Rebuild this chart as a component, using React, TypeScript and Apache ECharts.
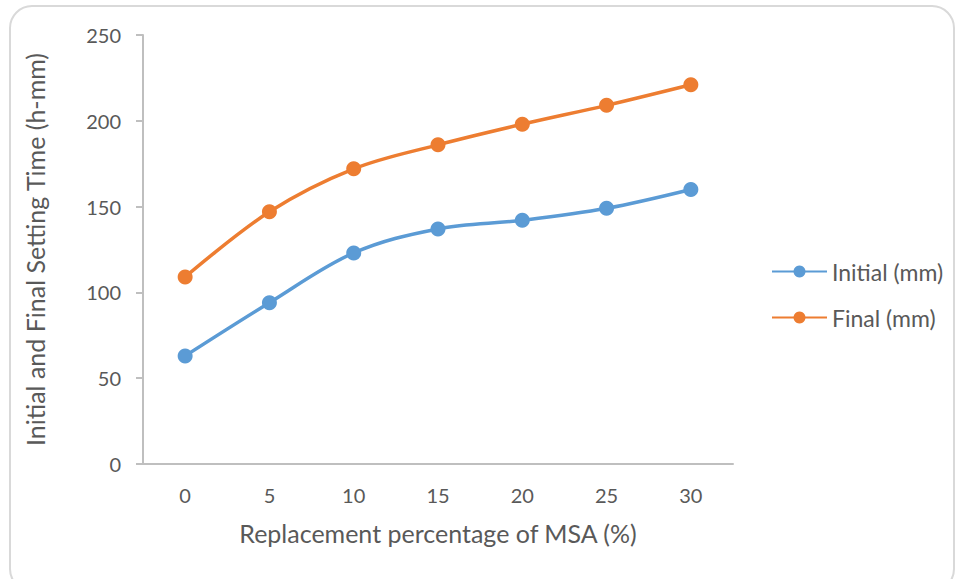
import React, { useEffect, useRef } from "react";
import * as echarts from "echarts";

const categories = ["0", "5", "10", "15", "20", "25", "30"];
const initialValues = [63, 94, 123, 137, 142, 149, 160];
const finalValues = [109, 147, 172, 186, 198, 209, 221];
const seriesNames = ["Initial (mm)", "Final (mm)"];

export default function App() {
  const ref = useRef<HTMLDivElement>(null);
  useEffect(() => {
    if (!ref.current) return;
    const chart = echarts.init(ref.current, undefined, { renderer: "svg" });
    const font = "Lato, 'Open Sans', sans-serif";
    chart.setOption({
      animation: false,
      backgroundColor: "#ffffff",
      textStyle: { fontFamily: font },
      graphic: [
        {
          type: "rect",
          shape: { x: 10, y: 6, width: 944, height: 585, r: 22 },
          style: { fill: "none", stroke: "#d9d9d9", lineWidth: 2 },
          silent: true,
          z: -1,
        },
      ],
      grid: { left: 143, top: 35, right: 227, bottom: 115 },
      legend: {
        orient: "vertical",
        left: 766,
        top: 255,
        itemWidth: 55,
        itemHeight: 15,
        itemGap: 23,
        textStyle: { fontFamily: font, fontSize: 23, color: "#595959" },
        data: seriesNames,
      },
      xAxis: {
        type: "category",
        data: categories,
        boundaryGap: true,
        axisLine: { lineStyle: { color: "#bfbfbf", width: 2 } },
        axisTick: { show: false },
        axisLabel: { color: "#595959", fontSize: 20, margin: 21, fontFamily: font },
        name: "Replacement percentage of MSA (%)",
        nameLocation: "middle",
        nameGap: 56,
        nameTextStyle: { color: "#595959", fontSize: 25, fontFamily: font },
      },
      yAxis: {
        type: "value",
        min: 0,
        max: 250,
        interval: 50,
        splitLine: { show: false },
        axisLine: { show: true, lineStyle: { color: "#bfbfbf", width: 2 } },
        axisTick: { show: true, length: 7, lineStyle: { color: "#bfbfbf", width: 2 } },
        axisLabel: { color: "#595959", fontSize: 20, margin: 22, fontFamily: font },
        name: "Initial and Final Setting Time (h-mm)",
        nameLocation: "middle",
        nameGap: 96,
        nameTextStyle: { color: "#595959", fontSize: 25, fontFamily: font },
      },
      series: [
        {
          name: seriesNames[0],
          type: "line",
          data: initialValues,
          smooth: 0.35,
          symbol: "circle",
          symbolSize: 15,
          color: "#5b9bd5",
          lineStyle: { width: 3.5, color: "#5b9bd5" },
          itemStyle: { color: "#5b9bd5" },
        },
        {
          name: seriesNames[1],
          type: "line",
          data: finalValues,
          smooth: 0.35,
          symbol: "circle",
          symbolSize: 15,
          color: "#ed7d31",
          lineStyle: { width: 3.5, color: "#ed7d31" },
          itemStyle: { color: "#ed7d31" },
        },
      ],
    });
    return () => chart.dispose();
  }, []);
  return (
    <div
      ref={ref}
      style={{ position: "fixed", left: 0, top: 0, width: 960, height: 579 }}
    />
  );
}
